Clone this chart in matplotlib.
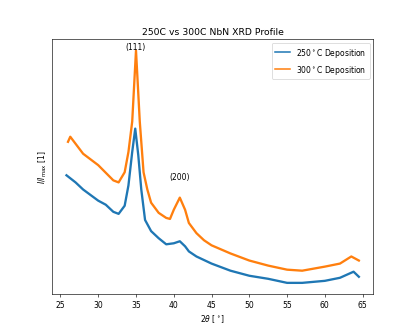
import numpy as np
import matplotlib
matplotlib.use('Agg')
import matplotlib.pyplot as plt

# values (normalised intensity, arbitrary units)
theta_250 = [25.8, 27.0, 28.0, 30.0, 31.0, 32.0, 32.7, 33.5, 34.0, 34.5, 34.9,
             35.3, 35.7, 36.2, 37.0, 38.0, 39.0, 40.0, 40.8, 41.5, 42.0, 43.0,
             45.0, 47.5, 50.0, 52.5, 55.0, 57.0, 60.0, 62.0, 63.8, 64.5]
int_250 = [0.508, 0.480, 0.452, 0.408, 0.392, 0.364, 0.356, 0.388, 0.468, 0.600,
           0.692, 0.588, 0.452, 0.332, 0.288, 0.260, 0.236, 0.240, 0.248, 0.228,
           0.208, 0.188, 0.160, 0.132, 0.112, 0.100, 0.084, 0.084, 0.092, 0.104,
           0.128, 0.108]

theta_300 = [26.0, 26.3, 28.0, 30.0, 32.0, 32.7, 33.5, 34.0, 34.5, 35.0, 35.5,
             36.0, 36.5, 37.0, 38.0, 39.0, 39.5, 40.0, 40.8, 41.5, 42.0, 43.0,
             44.0, 45.0, 47.5, 50.0, 52.5, 55.0, 57.0, 60.0, 62.0, 63.5, 64.5]
int_300 = [0.640, 0.660, 0.593, 0.548, 0.488, 0.480, 0.520, 0.600, 0.720, 1.000,
           0.720, 0.520, 0.452, 0.400, 0.360, 0.340, 0.336, 0.372, 0.420, 0.372,
           0.320, 0.280, 0.252, 0.232, 0.200, 0.172, 0.152, 0.136, 0.132, 0.148,
           0.160, 0.188, 0.172]

peak_labels = ['(111)', '(200)']
peak_pos = [34.9, 40.8]
peak_y = [0.998, 0.485]

fig = plt.figure(figsize=(7.5, 6), dpi=55.33)
ax = fig.add_subplot(111)
ax.plot(theta_250, int_250, color='#1f77b4', lw=3, label=r'250$^\circ$C Deposition')
ax.plot(theta_300, int_300, color='#ff7f0e', lw=3, label=r'300$^\circ$C Deposition')

for lab, x, y in zip(peak_labels, peak_pos, peak_y):
    ax.text(x, y, lab, ha='center', va='bottom')

ax.set_yticks([])
ax.set_title('250C vs 300C NbN XRD Profile')
ax.set_xlabel(r'$2\theta$ [$^\circ$]')
ax.set_ylabel(r'$I/I_{\rm max}$ [1]')
legend = ax.legend(loc='upper right')
for line in legend.get_lines():
    line.set_linewidth(2)

fig.savefig('out.png', dpi=55.33)
